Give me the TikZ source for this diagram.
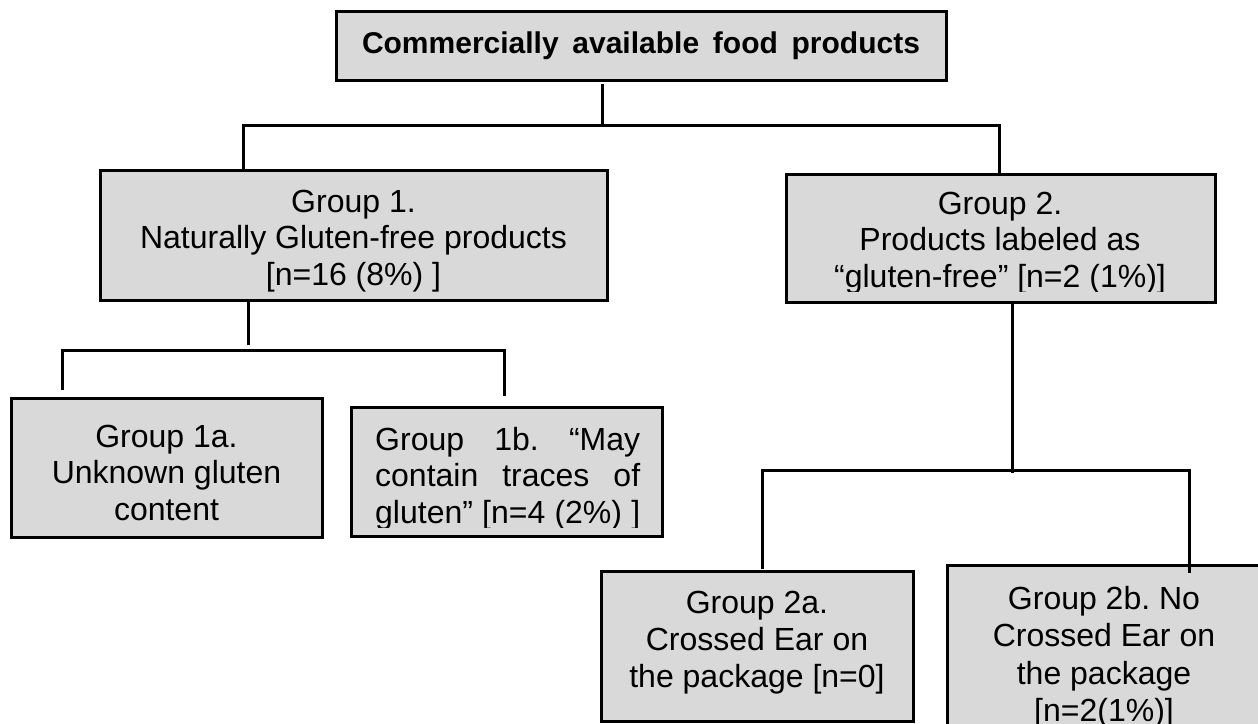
\documentclass[tikz,border=0pt]{standalone}
\usepackage{fontspec}
\setmainfont{Liberation Sans}
\frenchspacing
\definecolor{boxgray}{RGB}{217,217,217}
\tikzset{
  box/.style={draw=black, fill=boxgray, line width=3pt, inner sep=0pt,
              outer sep=0pt, anchor=north west},
  link/.style={draw=black, line width=3pt},
  % multi-line labels are placed by the baseline of their last line
  lbl/.style={align=center, anchor=base, inner sep=0pt,
              font=\fontsize{32}{36.5}\selectfont},
  lbltall/.style={lbl, font=\fontsize{32}{37.5}\selectfont},
}
\begin{document}
\begin{tikzpicture}[x=1pt,y=-1pt]
\useasboundingbox (0,0) rectangle (1258,723);
\clip (0,0) rectangle (1258,723);

% root box
\node[box, anchor=west, minimum height=69pt, inner xsep=26pt,
      font=\bfseries\fontsize{30}{34}\selectfont] (top) at (336,45.5)
      {\makebox[558pt][s]{Commercially available food products}};

% group boxes
\node[box, minimum width=507pt, minimum height=130pt] (g1)  at (100,170) {};
\node[box, minimum width=429pt, minimum height=128pt] (g2)  at (786,174) {};
\node[box, minimum width=311pt, minimum height=139pt] (g1a) at (11,398)  {};
\node[box, minimum width=311pt, minimum height=129pt] (g1b) at (351,407) {};
\node[box, minimum width=312pt, minimum height=150pt] (g2a) at (601,571) {};
\node[box, minimum width=320pt, minimum height=200pt] (g2b) at (947,565) {};

% box texts
\node[lbl] (g1t) at (353.5,285)
  {Group 1.\\Naturally Gluten-free products\\{[n=16 (8\%) ]}};
\begin{scope}
  \clip (786,174) rectangle (1215,291);
  \node[lbl] (g2t) at (1000,287)
    {Group 2.\\Products labeled as\\“gluten-free” {[n=2 (1\%)]}};
\end{scope}
\node[lbl] (g1at) at (166.5,520) {Group 1a.\\Unknown gluten\\content};
\begin{scope}
  \clip (351,407) rectangle (662,527);
  \node[lbl, align=left, anchor=base west] (g1bt) at (375,523)
    {\makebox[265pt][s]{Group 1b. “May}\\
     \makebox[265pt][s]{contain traces of}\\
     \makebox[265pt][s]{gluten” {[n=4 (2\%) ]}}};
\end{scope}
\node[lbl, font=\fontsize{32}{37}\selectfont] (g2at) at (757,687)
  {Group 2a.\\Crossed Ear on\\the package {[n=0]}};
\node[lbltall] (g2bt) at (1104,721.5)
  {Group 2b. No\\Crossed Ear on\\the package\\{[n=2(1\%)]}};

% junctions of the connector bars
\coordinate (j0)  at (602,125);
\coordinate (b0l) at (243,125);
\coordinate (b0r) at (999,125);
\coordinate (j1)  at (248,345);
\coordinate (b1l) at (62,350);
\coordinate (b1r) at (504,350);
\coordinate (e1l) at (62,390);
\coordinate (e1r) at (504,396);
\coordinate (j2)  at (1012,473);
\coordinate (b2l) at (762,470);
\coordinate (b2r) at (1189,470);
\coordinate (e2l) at (762,569);
\coordinate (e2r) at (1189,573);

% root to groups 1 and 2
\draw[link] ([yshift=-4pt]j0 |- top.south) -- (j0);
\draw[link] (b0l |- g1.north) -- (b0l) -- (b0r) -- (b0r |- g2.north);

% group 1 to 1a / 1b
\draw[link] (j1 |- g1.south) -- (j1);
\draw[link] (e1l) -- (b1l) -- (b1r) -- (e1r);

% group 2 to 2a / 2b
\draw[link] (j2 |- g2.south) -- (j2);
\draw[link] (e2l) -- (b2l) -- (b2r) -- (e2r);
\end{tikzpicture}
\end{document}
